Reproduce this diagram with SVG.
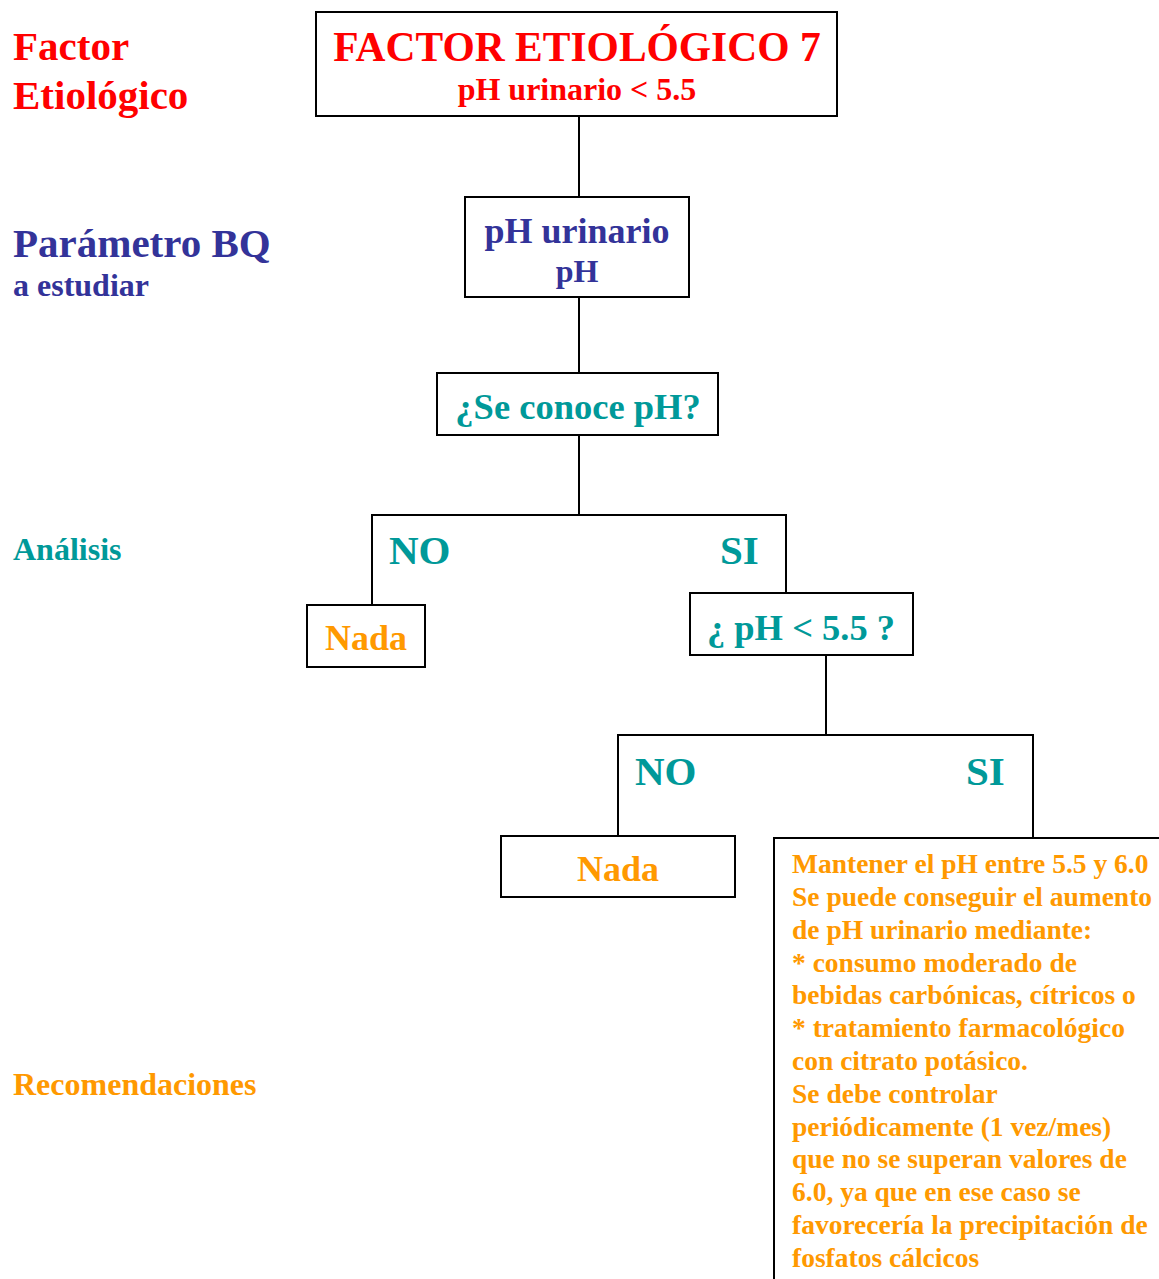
<svg xmlns="http://www.w3.org/2000/svg" width="1159" height="1279" viewBox="0 0 1159 1279">
<style>
text{font-family:"Liberation Serif","Times New Roman",serif;font-weight:bold}
.box{fill:#fff;stroke:#000;stroke-width:2}
.ln{fill:none;stroke:#000;stroke-width:2}
.red{fill:#ff0000}.blue{fill:#333399}.teal{fill:#009999}.org{fill:#ff9900}
.c{text-anchor:middle}
</style>
<rect width="1159" height="1279" fill="#fff"/>
<g id="labels">
<text class="red" x="13" y="60" font-size="41">Factor</text>
<text class="red" x="13" y="109" font-size="41">Etiológico</text>
<text class="blue" x="13" y="257" font-size="41">Parámetro BQ</text>
<text class="blue" x="13" y="296" font-size="32">a estudiar</text>
<text class="teal" x="13" y="560" font-size="32">Análisis</text>
<text class="org" x="13" y="1095" font-size="32">Recomendaciones</text>
</g>
<g id="connectors">
<path class="ln" d="M579 116V197M579 297V373M579 435V515M372 605V515H786V593M826 655V735M618 836V735H1033V838"/>
</g>
<g id="n1"><rect class="box" x="316" y="12" width="521" height="104"/>
<text class="red c" x="577" y="61" font-size="41.5">FACTOR ETIOLÓGICO 7</text>
<text class="red c" x="577" y="100" font-size="32">pH urinario &lt; 5.5</text></g>
<g id="n2"><rect class="box" x="465" y="197" width="224" height="100"/>
<text class="blue c" x="577" y="243" font-size="36">pH urinario</text>
<text class="blue c" x="577" y="282" font-size="32">pH</text></g>
<g id="n3"><rect class="box" x="437" y="373" width="281" height="62"/>
<text class="teal c" x="578" y="419" font-size="36.5">¿Se conoce pH?</text></g>
<g id="lbl1"><text class="teal" x="389" y="564" font-size="41">NO</text>
<text class="teal" x="720" y="564" font-size="41">SI</text></g>
<g id="n4"><rect class="box" x="307" y="605" width="118" height="62"/>
<text class="org c" x="366" y="650" font-size="36">Nada</text></g>
<g id="n5"><rect class="box" x="690" y="593" width="223" height="62"/>
<text class="teal c" x="801" y="640" font-size="36.5">¿ pH &lt; 5.5 ?</text></g>
<g id="lbl2"><text class="teal" x="635" y="785" font-size="41">NO</text>
<text class="teal" x="966" y="785" font-size="41">SI</text></g>
<g id="n6"><rect class="box" x="501" y="836" width="234" height="61"/>
<text class="org c" x="618" y="881" font-size="36">Nada</text></g>
<g id="n7"><path class="ln" d="M774 1279V838H1160"/>
<text class="org" x="792" font-size="27.5">
<tspan x="792" y="873">Mantener el pH entre 5.5 y 6.0</tspan>
<tspan x="792" y="906">Se puede conseguir el aumento</tspan>
<tspan x="792" y="939">de pH urinario mediante:</tspan>
<tspan x="792" y="972">* consumo moderado de</tspan>
<tspan x="792" y="1004">bebidas carbónicas, cítricos o</tspan>
<tspan x="792" y="1037">* tratamiento farmacológico</tspan>
<tspan x="792" y="1070">con citrato potásico.</tspan>
<tspan x="792" y="1103">Se debe controlar</tspan>
<tspan x="792" y="1136">periódicamente (1 vez/mes)</tspan>
<tspan x="792" y="1168">que no se superan valores de</tspan>
<tspan x="792" y="1201">6.0, ya que en ese caso se</tspan>
<tspan x="792" y="1234">favorecería la precipitación de</tspan>
<tspan x="792" y="1267">fosfatos cálcicos</tspan>
</text></g>
</svg>
